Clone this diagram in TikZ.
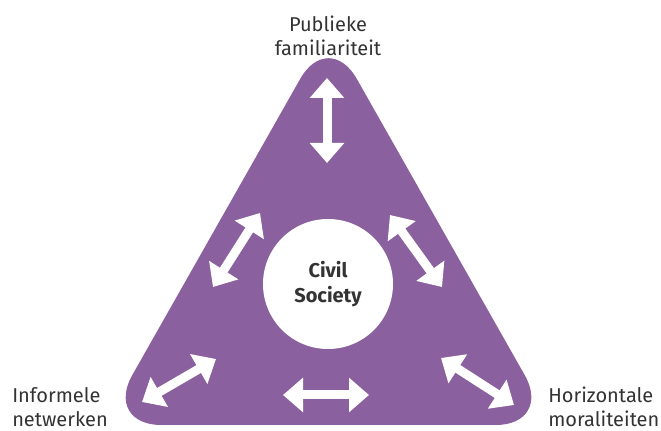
\documentclass[tikz,border=0pt]{standalone}
\usepackage{fontspec}
\setmainfont{Fira Sans}
\usetikzlibrary{arrows.meta}

\definecolor{paars}{RGB}{139,96,159}
\definecolor{tekst}{RGB}{51,51,51}

\tikzset{
    pijl/.style={white, line width=6.75pt, {Triangle[length=15pt,width=25pt]}-{Triangle[length=15pt,width=25pt]}},
    hoek/.style={text=tekst, inner sep=0pt, font=\fontsize{15}{18}\selectfont}
}

\begin{document}
\begin{tikzpicture}[x=0.75pt,y=0.75pt]
        \useasboundingbox (0,0) rectangle (661,431);
        \fill[paars, rounded corners=43pt] (328.5,402) -- (553,6) -- (104,6) -- cycle; %driehoek

        \node[circle, fill=white, minimum size=97.5pt, align=center, text=tekst,
              font=\bfseries\fontsize{15}{18.75}\selectfont] (cs) at (328,147) {Civil\\Society};

        % hoeken
        \node[hoek, align=center] (pub) at (328,395) {Publieke\\familiariteit};
        \node[hoek, align=left, anchor=west] (inf) at (12,24) {Informele\\netwerken};
        \node[hoek, align=left, anchor=west] (hor) at (548,24) {Horizontale\\moraliteiten};

        % --------------------------------------------------

        \coordinate (v1) at (327,353);  \coordinate (v2) at (327,268);
        \coordinate (ul1) at (260,218); \coordinate (ul2) at (213,144);
        \coordinate (ur1) at (390,216); \coordinate (ur2) at (442,144);
        \coordinate (bl1) at (142,29);  \coordinate (bl2) at (216,72);
        \coordinate (bm1) at (283,36);  \coordinate (bm2) at (369,36);
        \coordinate (br1) at (441,73);  \coordinate (br2) at (514,26);

        \draw[pijl] (v1) -- (v2);
        \draw[pijl] (ul1) -- (ul2);
        \draw[pijl] (ur1) -- (ur2);
        \draw[pijl] (bl1) -- (bl2);
        \draw[pijl] (bm1) -- (bm2);
        \draw[pijl] (br1) -- (br2);
\end{tikzpicture}
\end{document}
